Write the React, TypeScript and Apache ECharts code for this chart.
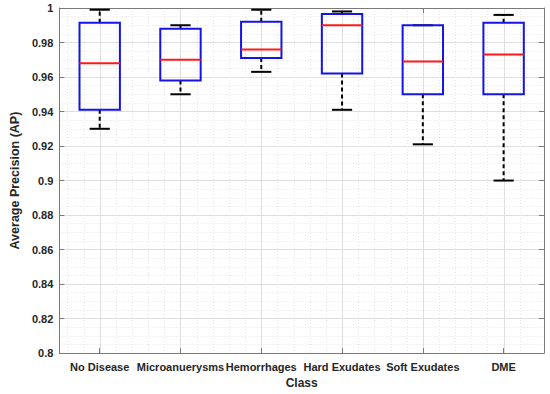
import React, { useEffect, useRef } from "react";
import * as echarts from "echarts";

const categories = ["No Disease", "Microanuerysms", "Hemorrhages", "Hard Exudates", "Soft Exudates", "DME"];
const mins = [0.93, 0.95, 0.963, 0.941, 0.921, 0.9];
const q1s = [0.941, 0.958, 0.971, 0.962, 0.95, 0.95];
const medians = [0.968, 0.97, 0.976, 0.99, 0.969, 0.973];
const q3s = [0.9915, 0.988, 0.992, 0.9965, 0.99, 0.9915];
const maxs = [0.999, 0.99, 0.999, 0.998, 0.99, 0.996];
const yTicks = [0.8, 0.82, 0.84, 0.86, 0.88, 0.9, 0.92, 0.94, 0.96, 0.98, 1];

const FONT = "'Liberation Sans', Arial, Helvetica, sans-serif";
const AXIS_COLOR = "#7a7a7a";
const TEXT_COLOR = "#262626";

export default function App() {
  const ref = useRef<HTMLDivElement>(null);
  useEffect(() => {
    if (!ref.current) return;
    const chart = echarts.init(ref.current, null, { renderer: "svg" });
    const boxData = categories.map((_, i) => [i, mins[i], q1s[i], medians[i], q3s[i], maxs[i]]);

    const option: any = {
      animation: false,
      backgroundColor: "#ffffff",
      grid: { left: 49, top: 8, width: 495, height: 347, containLabel: false },
      xAxis: [
        {
          type: "category",
          data: categories,
          position: "bottom",
          boundaryGap: true,
          name: "Class",
          nameLocation: "middle",
          nameGap: 23,
          nameTextStyle: { fontFamily: FONT, fontWeight: "bold", fontSize: 12, color: TEXT_COLOR },
          axisLine: { show: true, lineStyle: { color: AXIS_COLOR, width: 1 } },
          axisTick: { show: true, inside: true, alignWithLabel: true, length: 5, lineStyle: { color: AXIS_COLOR } },
          axisLabel: { show: true, interval: 0, margin: 8, fontFamily: FONT, fontWeight: "bold", fontSize: 11, color: TEXT_COLOR },
          splitLine: { show: false },
        },
        {
          type: "category",
          data: categories,
          position: "top",
          boundaryGap: true,
          axisLine: { show: true, lineStyle: { color: AXIS_COLOR, width: 1 } },
          axisTick: { show: true, inside: true, alignWithLabel: true, length: 5, lineStyle: { color: AXIS_COLOR } },
          axisLabel: { show: false },
          splitLine: { show: false },
        },
      ],
      yAxis: [
        {
          type: "value",
          min: 0.8,
          max: 1,
          interval: 0.02,
          position: "left",
          name: "Average Precision (AP)",
          nameLocation: "middle",
          nameGap: 32,
          nameTextStyle: { fontFamily: FONT, fontWeight: "bold", fontSize: 12.5, color: TEXT_COLOR },
          axisLine: { show: true, lineStyle: { color: AXIS_COLOR, width: 1 } },
          axisTick: { show: true, inside: true, length: 5, lineStyle: { color: AXIS_COLOR } },
          axisLabel: {
            margin: 6,
            fontFamily: FONT,
            fontWeight: "bold",
            fontSize: 11,
            color: TEXT_COLOR,
            formatter: (v: number) => {
              const t = yTicks.find((y) => Math.abs(y - v) < 1e-6);
              return t === undefined ? "" : String(+t.toFixed(2));
            },
          },
          splitLine: { show: true, lineStyle: { color: "#dedede", width: 1 } },
          minorTick: { show: false, splitNumber: 4 },
          minorSplitLine: { show: true, lineStyle: { color: "#e6e6e6", width: 1, type: [1, 2] } },
        },
        {
          type: "value",
          min: 0.8,
          max: 1,
          interval: 0.02,
          position: "right",
          axisLine: { show: true, lineStyle: { color: AXIS_COLOR, width: 1 } },
          axisTick: { show: true, inside: true, length: 5, lineStyle: { color: AXIS_COLOR } },
          axisLabel: { show: false },
          splitLine: { show: false },
        },
      ],
      series: [
        {
          type: "custom",
          name: "grid",
          xAxisIndex: 0,
          yAxisIndex: 0,
          z: 0,
          silent: true,
          data: [[0, 0.8]],
          renderItem: (params: any, api: any) => {
            const cs = params.coordSys;
            const children: any[] = [];
            const n = categories.length;
            for (let j = 1; j <= n * 5 - 1; j++) {
              const v = 0.4 + 0.2 * j; // in [0.6, 6.4]
              const isMajor = Math.abs(v - Math.round(v)) < 1e-6;
              const px = Math.round(cs.x + (cs.width * (v - 0.5)) / n) + 0.5;
              children.push({
                type: "line",
                shape: { x1: px, y1: cs.y, x2: px, y2: cs.y + cs.height },
                style: isMajor
                  ? { stroke: "#dedede", lineWidth: 1 }
                  : { stroke: "#e6e6e6", lineWidth: 1, lineDash: [1, 2] },
              });
            }
            return { type: "group", children };
          },
        },
        {
          type: "custom",
          name: "AP",
          xAxisIndex: 0,
          yAxisIndex: 0,
          z: 5,
          data: boxData,
          encode: { x: 0, y: [1, 2, 3, 4, 5] },
          renderItem: (params: any, api: any) => {
            const x = api.value(0);
            const pMin = api.coord([x, api.value(1)]);
            const pQ1 = api.coord([x, api.value(2)]);
            const pMed = api.coord([x, api.value(3)]);
            const pQ3 = api.coord([x, api.value(4)]);
            const pMax = api.coord([x, api.value(5)]);
            const band = api.size([1, 0])[0];
            const boxW = band * 0.5;
            const capW = band * 0.25;
            const cx = pMed[0];
            const black = "#000000";
            const children: any[] = [
              {
                type: "line",
                shape: { x1: cx, y1: pQ3[1], x2: cx, y2: pMax[1] },
                style: { stroke: black, lineWidth: 2, lineDash: [4, 3] },
              },
              {
                type: "line",
                shape: { x1: cx, y1: pQ1[1], x2: cx, y2: pMin[1] },
                style: { stroke: black, lineWidth: 2, lineDash: [4, 3] },
              },
              {
                type: "line",
                shape: { x1: cx - capW / 2, y1: pMax[1], x2: cx + capW / 2, y2: pMax[1] },
                style: { stroke: black, lineWidth: 2 },
              },
              {
                type: "line",
                shape: { x1: cx - capW / 2, y1: pMin[1], x2: cx + capW / 2, y2: pMin[1] },
                style: { stroke: black, lineWidth: 2 },
              },
              {
                type: "rect",
                shape: { x: cx - boxW / 2, y: pQ3[1], width: boxW, height: pQ1[1] - pQ3[1] },
                style: { fill: "none", stroke: "#1414e6", lineWidth: 2 },
              },
              {
                type: "line",
                shape: { x1: cx - boxW / 2, y1: pMed[1], x2: cx + boxW / 2, y2: pMed[1] },
                style: { stroke: "#ff1a1a", lineWidth: 2 },
              },
            ];
            return { type: "group", children };
          },
        },
      ],
    };
    chart.setOption(option);
    return () => chart.dispose();
  }, []);
  return (
    <div
      ref={ref}
      style={{ position: "absolute", left: 0, top: 0, width: 550, height: 394, background: "#fff" }}
    />
  );
}
